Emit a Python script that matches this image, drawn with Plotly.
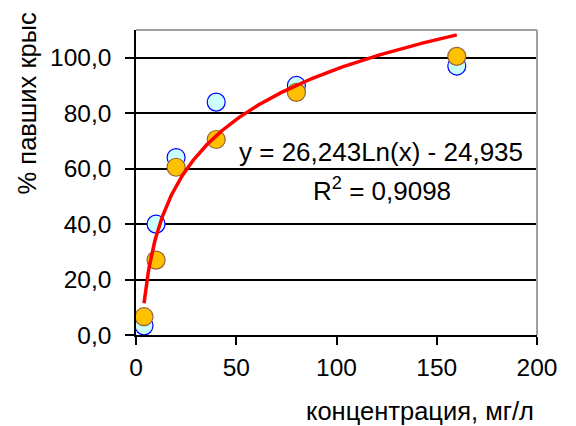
import numpy as np
import plotly.graph_objects as go

# Concentrations (mg/l) and mortality (%) for the two series
conc = [4, 10, 20, 40, 80, 160]
mort_a = [3.3, 40.0, 64.0, 84.0, 90.0, 97.0]
mort_b = [6.6, 27.0, 60.5, 70.5, 87.5, 100.5]

# Logarithmic trendline coefficients: y = a*ln(x) + b
trend_a = 26.243
trend_b = -24.935
r_squared = "0,9098"

x_ticks = [0, 50, 100, 150, 200]
y_ticks = [0, 20, 40, 60, 80, 100]
y_tick_text = ["0,0", "20,0", "40,0", "60,0", "80,0", "100,0"]

x_title = "концентрация, мг/л"
y_title = "% павших крыс"

font_family = "Liberation Sans, Arial, sans-serif"
tick_size = 24.5
title_size = 25.5
label_size = 26

tx = np.linspace(min(conc), max(conc), 300)
ty = trend_a * np.log(tx) + trend_b

fig = go.Figure()
fig.add_trace(go.Scatter(
    x=conc, y=mort_a, mode="markers",
    marker=dict(size=18, color="#CCFFFF", line=dict(color="#0000FF", width=1.2)),
    showlegend=False, cliponaxis=False,
))
fig.add_trace(go.Scatter(
    x=conc, y=mort_b, mode="markers",
    marker=dict(size=18, color="#FFC000", line=dict(color="#996633", width=1.2)),
    showlegend=False, cliponaxis=False,
))
fig.add_trace(go.Scatter(
    x=tx, y=ty, mode="lines",
    line=dict(color="#FF0000", width=3.5),
    showlegend=False, cliponaxis=False,
))

fig.update_layout(
    width=576, height=426,
    margin=dict(l=136, r=39, t=30, b=91),
    paper_bgcolor="white", plot_bgcolor="white",
    font=dict(family=font_family, size=tick_size, color="#000000"),
    xaxis=dict(
        range=[0, 200], tickvals=x_ticks, ticktext=[str(v) for v in x_ticks],
        showgrid=False, zeroline=False,
        showline=True, linecolor="black", linewidth=1.5,
        ticks="outside", ticklen=8, tickwidth=1.5, tickcolor="black",
        ticklabelstandoff=2,
    ),
    yaxis=dict(
        range=[0, 110], tickvals=y_ticks, ticktext=y_tick_text,
        showgrid=True, gridcolor="black", gridwidth=1.5,
        zeroline=False,
        showline=True, linecolor="black", linewidth=1.5,
        ticks="outside", ticklen=9, tickwidth=1.5, tickcolor="black",
        ticklabelstandoff=9,
    ),
    shapes=[
        dict(type="line", xref="paper", yref="paper", x0=0, x1=1, y0=1, y1=1,
             line=dict(color="#A0A0A0", width=2)),
        dict(type="line", xref="paper", yref="paper", x0=1, x1=1, y0=0, y1=1,
             line=dict(color="#A0A0A0", width=2)),
    ],
    annotations=[
        # axis titles
        dict(x=0.708, y=-0.249, xref="paper", yref="paper", showarrow=False,
             text=x_title, font=dict(size=title_size),
             xanchor="center", yanchor="middle"),
        dict(x=-0.272, y=0.759, xref="paper", yref="paper", showarrow=False,
             text=y_title, font=dict(size=title_size), textangle=-90,
             xanchor="center", yanchor="middle"),
        # trendline equation and R²
        dict(x=122.2, y=66, xref="x", yref="y", showarrow=False,
             text=f"y = {trend_a:.3f}Ln(x) - {abs(trend_b):.3f}".replace(".", ","),
             font=dict(size=label_size), xanchor="center", yanchor="middle"),
        dict(x=122.7, y=52.5, xref="x", yref="y", showarrow=False,
             text=f"R<sup>2</sup> = {r_squared}",
             font=dict(size=label_size), xanchor="center", yanchor="middle"),
    ],
)

fig.write_html("out.html")
